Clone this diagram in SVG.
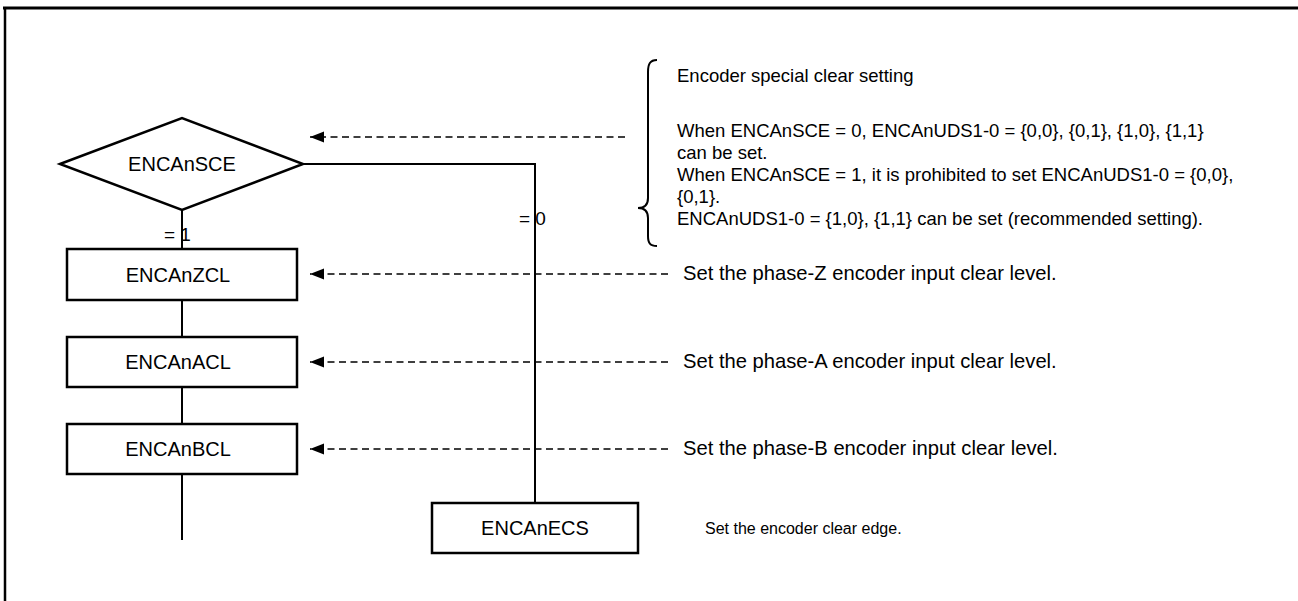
<svg xmlns="http://www.w3.org/2000/svg" width="1298" height="601" viewBox="0 0 1298 601">
<defs>
<style>
text{font-family:"Liberation Sans",Arial,sans-serif;fill:#000}
.lbl{font-size:20px;text-anchor:middle}
.note{font-size:18.5px}
.eq{font-size:19px}
.desc{font-size:20.2px}
.small{font-size:16px}
.box{fill:#fff;stroke:#000;stroke-width:2.5}
.ln{fill:none;stroke:#000;stroke-width:2}
.dash{fill:none;stroke:#000;stroke-width:1.6;stroke-dasharray:7 4.5}
</style>
<marker id="ah" markerWidth="14" markerHeight="12" refX="14" refY="6" orient="auto" markerUnits="userSpaceOnUse">
<path d="M0,0.5 L14,6 L0,11.5 Z" fill="#000"/>
</marker>
</defs>
<rect width="1298" height="601" fill="#fff"/>
<g id="frame">
<line x1="3" y1="8" x2="1298" y2="8" stroke="#000" stroke-width="3"/>
<line x1="5" y1="8" x2="5" y2="601" stroke="#000" stroke-width="2.5"/>
</g>
<g id="connectors">
<path class="ln" d="M303,164 H535 V503"/>
<path class="ln" d="M182,210 V249"/>
<path class="ln" d="M182,300 V337"/>
<path class="ln" d="M182,387 V424"/>
<path class="ln" d="M182,474 V540"/>
<path class="dash" d="M625,137 H310" marker-end="url(#ah)"/>
<path class="dash" d="M668,274 H310" marker-end="url(#ah)"/>
<path class="dash" d="M668,362 H310" marker-end="url(#ah)"/>
<path class="dash" d="M668,449 H310" marker-end="url(#ah)"/>
<text class="eq" x="519" y="225">= 0</text>
<text class="eq" x="164" y="241">= 1</text>
</g>
<g id="n-sce">
<polygon class="box" points="60,164 182,118 303,164 182,210"/>
<text class="lbl" x="182" y="171">ENCAnSCE</text>
</g>
<g id="n-zcl">
<rect class="box" x="67" y="249" width="230" height="51"/>
<text class="lbl" x="178" y="282">ENCAnZCL</text>
</g>
<g id="n-acl">
<rect class="box" x="67" y="337" width="230" height="50"/>
<text class="lbl" x="178" y="369">ENCAnACL</text>
</g>
<g id="n-bcl">
<rect class="box" x="67" y="424" width="230" height="50"/>
<text class="lbl" x="178" y="456">ENCAnBCL</text>
</g>
<g id="n-ecs">
<rect class="box" x="432" y="503" width="206" height="50"/>
<text class="lbl" x="535" y="535">ENCAnECS</text>
</g>
<g id="note-sce">
<path class="ln" d="M657,60 C650,60 648,64 648,72 V198 C648,205 645,208 638,208 C645,208 648,211 648,218 V236 C648,243 650,246 657,246" stroke-width="1.6"/>
<text class="note" x="677" y="82">Encoder special clear setting</text>
<text class="note" x="677" y="137">When ENCAnSCE = 0, ENCAnUDS1-0 = {0,0}, {0,1}, {1,0}, {1,1}</text>
<text class="note" x="677" y="159">can be set.</text>
<text class="note" x="677" y="181">When ENCAnSCE = 1, it is prohibited to set ENCAnUDS1-0 = {0,0},</text>
<text class="note" x="677" y="203">{0,1}.</text>
<text class="note" x="677" y="225">ENCAnUDS1-0 = {1,0}, {1,1} can be set (recommended setting).</text>
</g>
<g id="descs">
<text class="desc" x="683" y="280">Set the phase-Z encoder input clear level.</text>
<text class="desc" x="683" y="368">Set the phase-A encoder input clear level.</text>
<text class="desc" x="683" y="455">Set the phase-B encoder input clear level.</text>
<text class="small" x="705" y="534">Set the encoder clear edge.</text>
</g>
</svg>
